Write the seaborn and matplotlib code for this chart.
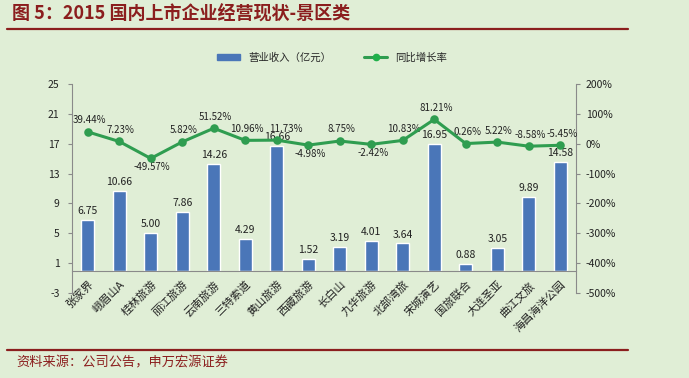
import matplotlib
matplotlib.use('Agg')
import matplotlib.pyplot as plt
from matplotlib.lines import Line2D
from matplotlib.ticker import FuncFormatter, FixedLocator
import seaborn as sns
import pandas as pd

# 2015 国内上市企业经营现状 - 景区类
companies = ['张家界', '峨眉山A', '桂林旅游', '丽江旅游', '云南旅游', '三特索道', '黄山旅游', '西藏旅游',
             '长白山', '九华旅游', '北部湾旅', '宋城演艺', '国旅联合', '大连圣亚', '曲江文旅', '海昌海洋公园']
revenue = [6.75, 10.66, 5.00, 7.86, 14.26, 4.29, 16.66, 1.52, 3.19, 4.01, 3.64, 16.95, 0.88, 3.05, 9.89, 14.58]
growth = [39.44, 7.23, -49.57, 5.82, 51.52, 10.96, 11.73, -4.98, 8.75, -2.42, 10.83, 81.21, 0.26, 5.22, -8.58, -5.45]
label_below = ['桂林旅游', '西藏旅游', '九华旅游']

df = pd.DataFrame({'公司': companies, '营业收入': revenue, '同比增长率': [g / 100 for g in growth]})

sns.set_style('white')
plt.rcParams['font.family'] = ['Noto Sans CJK SC', 'DejaVu Sans']
plt.rcParams['axes.unicode_minus'] = False

bg = '#e0eed6'
dark_red = '#8b1e1e'
bar_c = '#4a76b8'
line_c = '#2f9d50'
dot_c = '#20b04a'

fig = plt.figure(figsize=(6.89, 3.78), dpi=100, facecolor=bg)
ax = fig.add_axes([0.1045, 0.225, 0.7315, 0.553])
ax.set_facecolor(bg)

sns.barplot(data=df, x='公司', y='营业收入', color=bar_c, width=0.42, saturation=1, ax=ax, zorder=2)
ax.set_ylim(-3, 25)
ax.set_yticks([-3, 1, 5, 9, 13, 17, 21, 25])
ax.set_xlim(-0.5, len(companies) - 0.5)
ax.set_xlabel('')
ax.set_ylabel('')
for i, v in enumerate(revenue):
    ax.text(i, v + 0.5, f'{v:.2f}', ha='center', va='bottom', fontsize=7.5, color='#222222', zorder=5)

ax2 = ax.twinx()
sns.pointplot(data=df, x='公司', y='同比增长率', color=line_c, markers='o', markersize=4.5,
              linewidth=2.2, ax=ax2, zorder=4)
for coll in ax2.collections:
    coll.set_facecolor(dot_c)
    coll.set_edgecolor(dot_c)
ax2.set_ylim(-5, 2)
ax2.set_yticks([-5, -4, -3, -2, -1, 0, 1, 2])
ax2.yaxis.set_major_formatter(FuncFormatter(lambda v, p: f'{v * 100:.0f}%'))
ax2.set_xlim(-0.5, len(companies) - 0.5)
ax2.set_ylabel('')
for i, (name, g) in enumerate(zip(companies, growth)):
    dx = 0.28 if name == '黄山旅游' else 0.05
    if name in label_below:
        ax2.text(i + dx, g / 100 - 0.12, f'{g:.2f}%', ha='center', va='top', fontsize=7, color='#222222')
    else:
        ax2.text(i + dx, g / 100 + 0.22, f'{g:.2f}%', ha='center', va='bottom', fontsize=7, color='#222222')

# 坐标轴样式
axis_c = '#8a8a8a'
for a in (ax, ax2):
    a.spines['top'].set_visible(False)
    a.spines['left'].set_color(axis_c)
    a.spines['right'].set_color(axis_c)
    a.spines['bottom'].set_visible(False)
ax.spines['right'].set_visible(False)
ax2.spines['left'].set_visible(False)
ax.spines['bottom'].set_visible(True)
ax.spines['bottom'].set_position(('data', 0))
ax.spines['bottom'].set_color(axis_c)

ax.tick_params(axis='y', direction='out', length=3, color=axis_c, labelsize=7.5, labelcolor='#222222', pad=6)
ax2.tick_params(axis='y', direction='out', length=3, color=axis_c, labelsize=7.5, labelcolor='#222222', pad=4)
ax.xaxis.set_minor_locator(FixedLocator([i + 0.5 for i in range(len(companies) - 1)]))
ax.tick_params(axis='x', which='major', length=0, pad=6)
ax.tick_params(axis='x', which='minor', direction='out', length=3, color=axis_c)
ax2.tick_params(axis='x', length=0, labelbottom=False)
ax2.set_xlabel('')
ax.set_xticks(range(len(companies)))
ax.set_xticklabels(companies, rotation=45, ha='right', rotation_mode='anchor', fontsize=8, color='#222222')

# 图例
handles = [plt.Rectangle((0, 0), 1, 1, color=bar_c),
           Line2D([], [], color=line_c, lw=2.2, marker='o', markersize=4.5,
                  markerfacecolor=dot_c, markeredgecolor=dot_c)]
fig.legend(handles, ['营业收入（亿元）', '同比增长率'], loc='center', bbox_to_anchor=(0.482, 0.848),
           ncol=2, frameon=False, fontsize=7.5, handlelength=2.2, handleheight=0.6, columnspacing=3.2)

# 标题与来源
fig.text(0.017, 0.962, '图 5：2015 国内上市企业经营现状-景区类', fontsize=13, fontweight='bold',
         color=dark_red, va='center', ha='left')
fig.add_artist(Line2D([0.01, 0.912], [0.923, 0.923], color=dark_red, lw=1.6))
fig.add_artist(Line2D([0.01, 0.912], [0.074, 0.074], color=dark_red, lw=1.6))
fig.text(0.024, 0.040, '资料来源：公司公告，申万宏源证券', fontsize=9.5, style='italic',
         color=dark_red, va='center', ha='left')

fig.savefig('out.png', dpi=100, facecolor=bg)
